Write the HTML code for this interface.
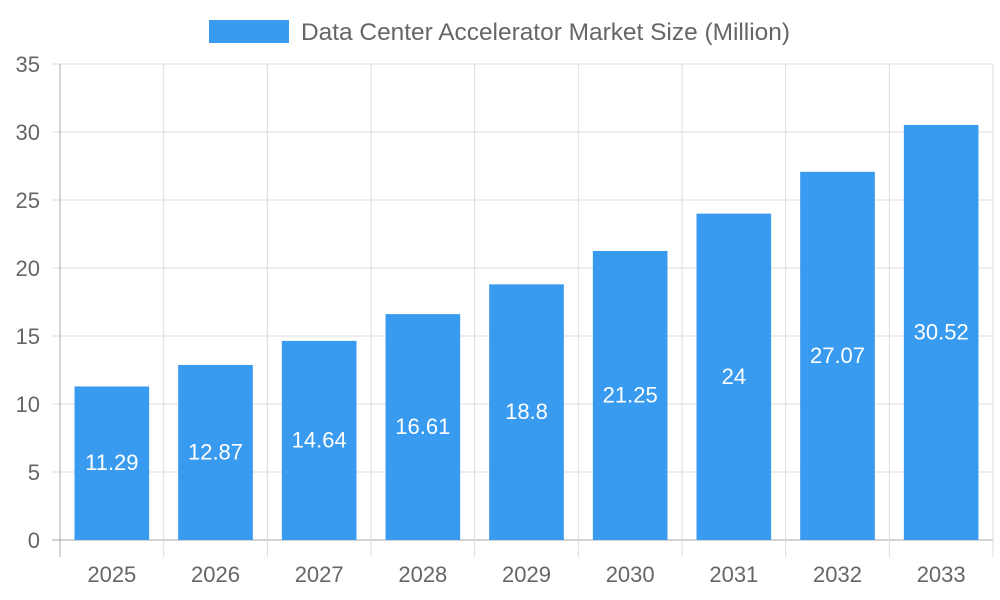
<!DOCTYPE html>
<html><head><meta charset="utf-8">
<style>
html,body{margin:0;padding:0;background:#fff;width:1000px;height:600px;overflow:hidden}
svg text{font-family:"Liberation Sans",sans-serif}
</style></head>
<body>
<svg id="chart" width="1000" height="600" xmlns="http://www.w3.org/2000/svg">
<g>
<rect x="209" y="20" width="80" height="23" fill="#389bef"/>
<text x="301" y="40" font-size="24" textLength="489" lengthAdjust="spacingAndGlyphs" fill="#666">Data Center Accelerator Market Size (Million)</text>
</g>
<g id="grid"></g>
<g id="bars"></g>
<g id="axes"></g>
</svg>
<script>
const categories = ["2025","2026","2027","2028","2029","2030","2031","2032","2033"];
const values = [11.29,12.87,14.64,16.61,18.8,21.25,24,27.07,30.52];
const yTicks = [0,5,10,15,20,25,30,35];

const NS="http://www.w3.org/2000/svg";
const L=60,R=993,T=64,B=540,yMax=35;
const cw=(R-L)/categories.length;
const y=v=>B-(v/yMax)*(B-T);
const x=i=>L+i*cw;
function mk(tag,attrs,parent){const e=document.createElementNS(NS,tag);for(const k in attrs)e.setAttribute(k,attrs[k]);parent.appendChild(e);return e;}
const grid=document.getElementById('grid'),bars=document.getElementById('bars'),axes=document.getElementById('axes');

yTicks.forEach(t=>{
  const ln=mk('line',{x1:L-8,x2:R,y1:y(t),y2:y(t),stroke:t===0?'#aaa':'#dcdcdc','stroke-width':1},grid);
  
  
  const tx=mk('text',{x:L-20,y:y(t)+8,'text-anchor':'end','font-size':22,fill:'#666'},axes);
  tx.textContent=t;
  
  
});
for(let i=0;i<=categories.length;i++){
  const ln=mk('line',{x1:x(i),x2:x(i),y1:T,y2:B+17,stroke:i===0?'#aaa':'#dcdcdc','stroke-width':1},grid);
  
  
}
categories.forEach((c,i)=>{
  const bw=cw*0.72, bx=x(i)+(cw-bw)/2;
  const r=mk('rect',{x:bx,y:y(values[i]),width:bw,height:B-y(values[i]),fill:'#389bef'},bars);
  
  
  const vl=mk('text',{x:x(i)+cw/2,y:(y(values[i])+B)/2+7,'text-anchor':'middle','font-size':22,fill:'#fff'},bars);
  vl.textContent=values[i];
  
  
  const xl=mk('text',{x:x(i)+cw/2,y:582,'text-anchor':'middle','font-size':22,fill:'#666'},axes);
  xl.textContent=c;
  
  
});
</script>
</body></html>
